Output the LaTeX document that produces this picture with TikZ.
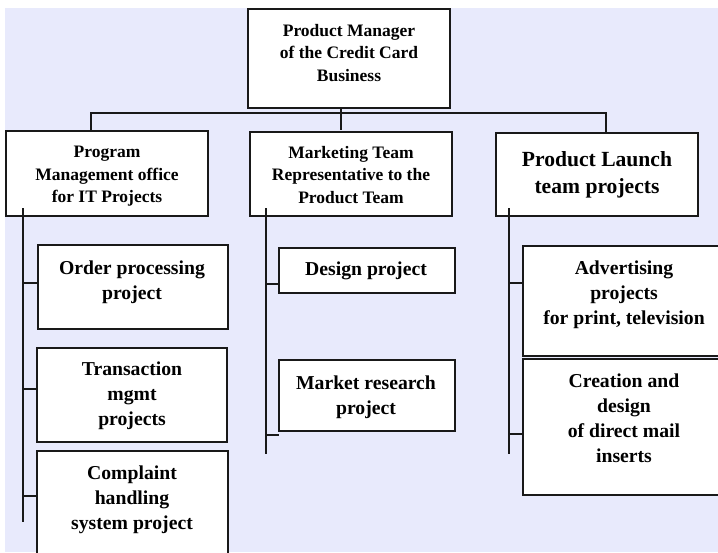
\documentclass[tikz,border=0pt]{standalone}
\usepackage{fontspec}
\setmainfont{Liberation Serif}
\begin{document}
\definecolor{panel}{RGB}{232,234,252}
\begin{tikzpicture}[x=1pt,y=-1pt,
  box/.style={draw=black!90, fill=white, line width=1.8pt, inner sep=0pt, outer sep=0pt, anchor=north west},
  txt/.style={inner sep=0pt, align=center, anchor=north, font=\bfseries},
  small/.style={font=\bfseries\fontsize{17.5}{22.5}\selectfont},
  mid/.style={font=\bfseries\fontsize{19.7}{25}\selectfont},
  large/.style={font=\bfseries\fontsize{21.6}{27.5}\selectfont},
  link/.style={draw=black!90, line width=1.4pt}]
\path[use as bounding box] (0,0) rectangle (718,552);
\clip (0,0) rectangle (718,552);
\fill[panel] (5,7.5) rectangle (718,552);

% boxes
\node[box, minimum width=202, minimum height=99]  (top)    at (248,9)   {};
\node[box, minimum width=202, minimum height=85]  (prog)   at (6,131)   {};
\node[box, minimum width=202, minimum height=84]  (mkt)    at (250,132) {};
\node[box, minimum width=202, minimum height=83]  (launch) at (496,133) {};
\node[box, minimum width=190, minimum height=84]  (op)     at (38,245)  {};
\node[box, minimum width=190, minimum height=94]  (tr)     at (37,348)  {};
\node[box, minimum width=191, minimum height=112] (cp)     at (37,451)  {};
\node[box, minimum width=176, minimum height=45]  (des)    at (279,248) {};
\node[box, minimum width=176, minimum height=71]  (mr)     at (279,360) {};
\node[box, minimum width=202, minimum height=110] (adv)    at (523,246) {};
\node[box, minimum width=202, minimum height=136] (cr)     at (523,359) {};

% labels
\node[txt, small] (topT)    at (349,24)  {Product Manager\\of the Credit Card\\Business};
\node[txt, small] (progT)   at (107,146) {Program\\Management office\\for IT Projects};
\node[txt, small] (mktT)    at (351,146) {Marketing Team\\Representative to the\\Product Team};
\node[txt, large] (launchT) at (597,151) {Product Launch\\team projects};
\node[txt, mid]   (opT)     at (132,261) {Order processing\\project};
\node[txt, mid]   (trT)     at (132,362) {Transaction\\mgmt\\projects};
\node[txt, mid]   (cpT)     at (132,466) {Complaint\\handling\\system project};
\node[txt, mid, anchor=center] (desT) at (366,271) {Design project};
\node[txt, mid]   (mrT)     at (366,376) {Market research\\project};
\node[txt, mid]   (advT)    at (624,261) {Advertising\\projects\\for print, television};
\node[txt, mid]   (crT)     at (624,374) {Creation and\\design\\of direct mail\\inserts};

% top-level bus
\coordinate (trunk) at (341,0);
\coordinate (busL)  at (91,113);
\coordinate (busR)  at (606,113);
\draw[link] (top.south -| trunk) -- ([yshift=2]mkt.north -| trunk);
\draw[link] (prog.north -| busL) -- (busL) -- (busR) -- (launch.north -| busR);

% spines under the three groups
\coordinate (pS) at (23,208);  \coordinate (pE) at (23,522);
\coordinate (mS) at (266,208); \coordinate (mE) at (266,454);
\coordinate (lS) at (509,208); \coordinate (lE) at (509,454);
\draw[link] (pS) -- (pE);
\draw[link] (mS) -- (mE);
\draw[link] (lS) -- (lE);

% branch ticks
\coordinate (p1) at (23,283);  \coordinate (p2) at (23,389);  \coordinate (p3) at (23,496);
\coordinate (m1) at (266,284); \coordinate (m2) at (266,435);
\coordinate (l1) at (509,283); \coordinate (l2) at (509,434);
\draw[link] (p1) -- (p1 -| op.west);
\draw[link] (p2) -- (p2 -| tr.west);
\draw[link] (p3) -- (p3 -| cp.west);
\draw[link] (m1) -- (m1 -| des.west);
\draw[link] (m2) -- (m2 -| mr.west);
\draw[link] (l1) -- (l1 -| adv.west);
\draw[link] (l2) -- (l2 -| cr.west);
\end{tikzpicture}
\end{document}
